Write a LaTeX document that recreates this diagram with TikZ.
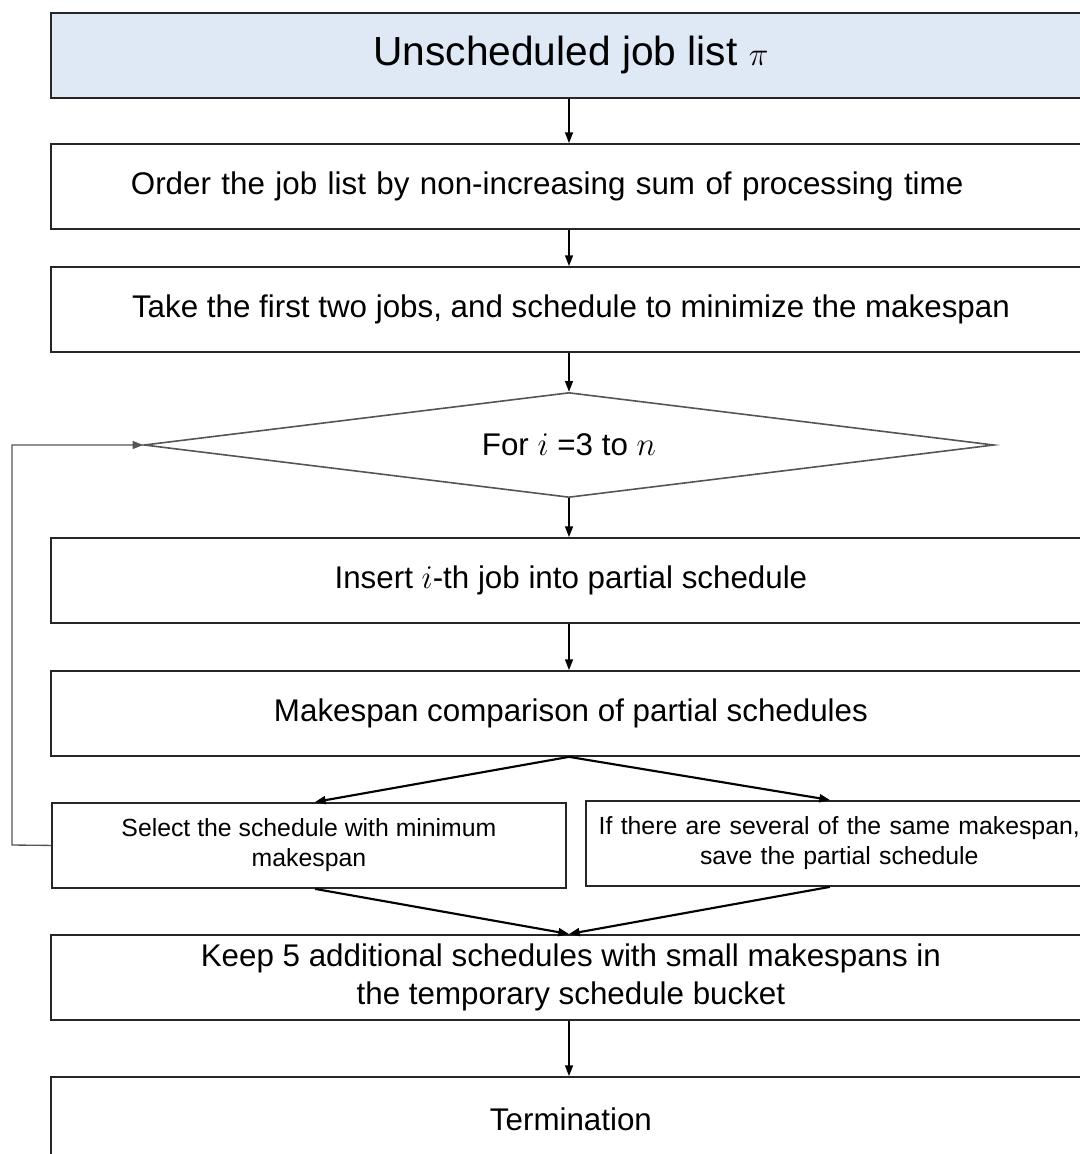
\documentclass[tikz,border=0pt]{standalone}
\usepackage{fontspec}
\setmainfont{Liberation Sans}
\usetikzlibrary{arrows.meta,shapes.geometric}
\definecolor{titlefill}{HTML}{DEE9F5}
\definecolor{edgegray}{HTML}{555555}
\begin{document}
\begin{tikzpicture}[x=0.75pt,y=-0.75pt,
  box/.style={draw=black!85,line width=1.4pt,rectangle,minimum width=780pt,minimum height=63.75pt,
    inner sep=0pt,font=\fontsize{23.5}{28.5}\selectfont,anchor=north west},
  halfbox/.style={draw=black!85,line width=1.4pt,rectangle,minimum height=63.75pt,
    inner sep=0pt,font=\fontsize{18.6}{22.5}\selectfont,align=center,anchor=north west},
  arr/.style={-{Triangle[length=8pt,width=6pt]},line width=1.1pt,black},
  loopline/.style={-{Triangle[length=8pt,width=6pt]},line width=1pt,edgegray}]
\useasboundingbox (0,0) rectangle (1080,1154);
\clip (0,0) rectangle (1080,1154);

% main column of steps
\node[box,fill=titlefill,font=\fontsize{30.5}{36}\selectfont] (start) at (50,12) {Unscheduled job list $\pi$};
\node[box,align=left,text width=660pt,inner xsep=60pt] (order) at (50,143) {Order the job list by non-increasing sum of processing time};
\node[box] (firsttwo) at (50,266) {Take the first two jobs, and schedule to minimize the makespan};
\node[diamond,draw=edgegray,line width=1.2pt,aspect=8.1,minimum width=637.5pt,minimum height=78.75pt,inner sep=0pt,
  font=\fontsize{23.5}{28}\selectfont] (loop) at (569,445) {For $i$ =3 to $n$};
\node[box] (insert) at (50,537) {Insert $i$-th job into partial schedule};
\node[box] (compare) at (50,670) {Makespan comparison of partial schedules};

% two outcomes of the comparison
\node[halfbox,minimum width=385.5pt] (select) at (51,802) {Select the schedule with minimum\\makespan};
\node[halfbox,minimum width=380pt,text width=380pt] (several) at (585,800) {If there are several of the same makespan,\\save the partial schedule};

\node[box,align=center] (keep) at (50,934) {Keep 5 additional schedules with small makespans in\\the temporary schedule bucket};
\node[box] (stop) at (50,1076) {Termination};

% connectors
\draw[arr] (start.south -| 569,0) -- (order.north -| 569,0);
\draw[arr] (order.south -| 569,0) -- (firsttwo.north -| 569,0);
\draw[arr] (firsttwo.south -| 569,0) -- (loop.north);
\draw[arr] (loop.south) -- (insert.north -| 569,0);
\draw[arr] (insert.south -| 569,0) -- (compare.north -| 569,0);
\draw[arr,line width=1.6pt] (compare.south -| 569,0) -- (select.north -| 315,0);
\draw[arr,line width=1.6pt] (compare.south -| 569,0) -- (several.north -| 830,0);
\draw[arr,line width=1.6pt] (select.south -| 315,0) -- (keep.north -| 569,0);
\draw[arr,line width=1.6pt] (several.south -| 830,0) -- (keep.north -| 569,0);
\draw[arr] (keep.south -| 569,0) -- (stop.north -| 569,0);
\draw[loopline] (select.west) -- (12,845) |- (loop.west);
\end{tikzpicture}
\end{document}
